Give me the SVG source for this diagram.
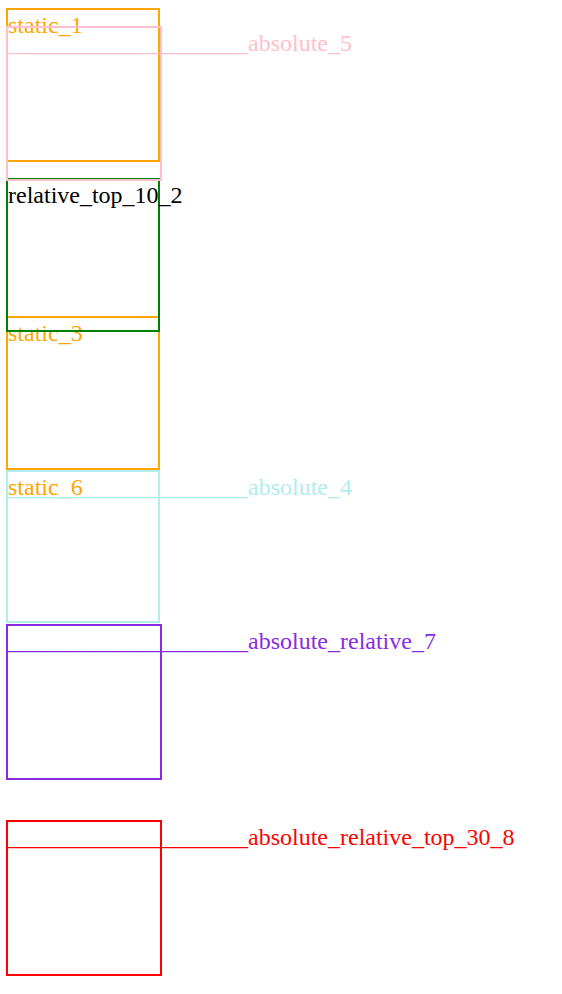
<svg xmlns="http://www.w3.org/2000/svg" width="562" height="994" viewBox="0 0 562 994">
<style>
  text { font-family: "Liberation Serif", "Times New Roman", serif; font-size: 24px; }
  rect { fill: none; stroke-width: 2; }
  .orange { stroke: #FFA500; }
  .otext { fill: #FFA500; }
</style>
<rect x="0" y="0" width="562" height="994" fill="#ffffff" stroke="none"/>
<g id="static_1">
  <rect class="orange" x="7" y="9" width="152" height="152"/>
  <text class="otext" x="8" y="32.5">static_1</text>
</g>
<g id="static_3">
  <rect class="orange" x="7" y="317" width="152" height="152"/>
  <text class="otext" x="8" y="340.5">static_3</text>
</g>
<g id="static_6">
  <text class="otext" x="8" y="494.5">static_6</text>
</g>
<g id="relative_top_10_2">
  <rect x="7" y="179" width="152" height="152" stroke="#008000"/>
  <text x="8" y="202.5" fill="#000000">relative_top_10_2</text>
</g>
<g id="absolute_5">
  <rect x="7" y="27" width="154" height="153" stroke="#FFC0CB"/>
  <text x="8" y="51" fill="#FFC0CB">____________________absolute_5</text>
</g>
<g id="absolute_4">
  <rect x="7" y="471" width="152" height="151" stroke="#AFEEEE"/>
  <text x="8" y="494.5" fill="#AFEEEE">____________________absolute_4</text>
</g>
<g id="absolute_relative_7">
  <rect x="7" y="625" width="154" height="154" stroke="#8A2BE2"/>
  <text x="8" y="649" fill="#8A2BE2">____________________absolute_relative_7</text>
</g>
<g id="absolute_relative_top_30_8">
  <rect x="7" y="821" width="154" height="154" stroke="#FF0000"/>
  <text x="8" y="845" fill="#FF0000">____________________absolute_relative_top_30_8</text>
</g>
<g id="connectors"></g>
</svg>
